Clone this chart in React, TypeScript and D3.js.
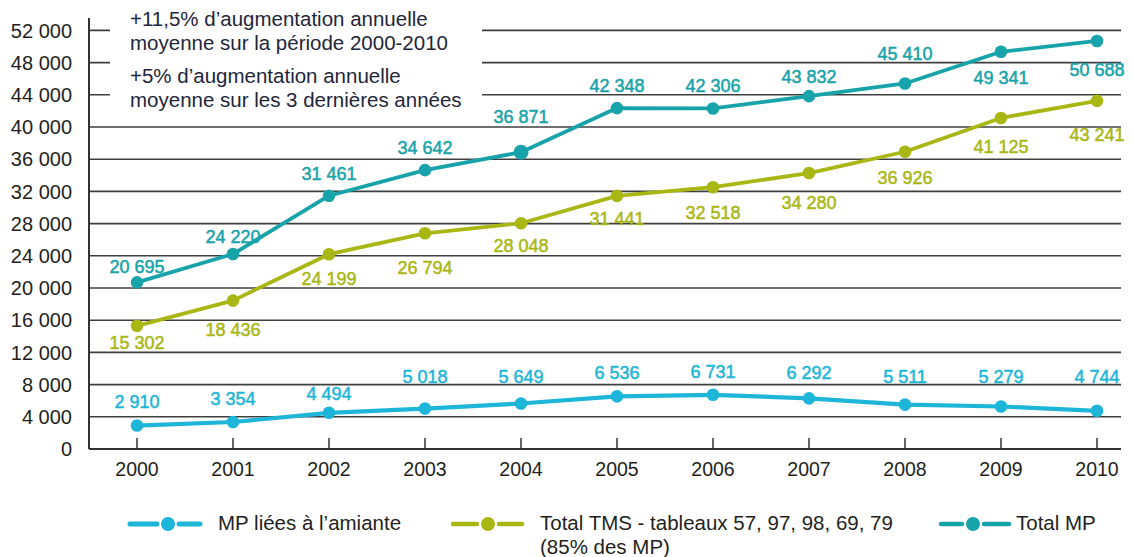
import React from "react";
import * as d3 from "d3";

const years = [2000, 2001, 2002, 2003, 2004, 2005, 2006, 2007, 2008, 2009, 2010];
const totalMP = [20695, 24220, 31461, 34642, 36871, 42348, 42306, 43832, 45410, 49341, 50688];
const totalTMS = [15302, 18436, 24199, 26794, 28048, 31441, 32518, 34280, 36926, 41125, 43241];
const amiante = [2910, 3354, 4494, 5018, 5649, 6536, 6731, 6292, 5511, 5279, 4744];
const yTicks = [0, 4000, 8000, 12000, 16000, 20000, 24000, 28000, 32000, 36000, 40000, 44000, 48000, 52000];

// label vertical offsets (px) relative to each point
const totalMPDy = [-16, -18, -22, -23, -36, -23, -23, -20, -30, 26, 29];
const tmsDy = [17, 29, 24, 34, 22, 23, 25, 29, 26, 29, 34];
const amianteDy = [-24, -23, -19, -32, -27, -24, -23, -26, -28, -30, -34];

const annotation = [
  "+11,5% d\u2019augmentation annuelle",
  "moyenne sur la p\u00e9riode 2000-2010",
  "+5% d\u2019augmentation annuelle",
  "moyenne sur les 3 derni\u00e8res ann\u00e9es",
];

const C_TOTAL = "#17a3a9";
const C_TMS = "#a9b715";
const C_AMI = "#1db6d8";
const FONT = "'Liberation Sans', Arial, Helvetica, sans-serif";

const fmt = (v: number) => {
  const s = String(v);
  return s.length > 3 ? s.slice(0, s.length - 3) + " " + s.slice(s.length - 3) : s;
};

export default function App() {
  const W = 1134, H = 557;
  const left = 89, right = 1121, bottom = 449;
  const x = d3.scaleLinear().domain([2000, 2010]).range([137, 1097]);
  const y = d3.scaleLinear().domain([0, 52000]).range([bottom, 30.4]);
  const line = d3.line<number>().x((_, i) => x(years[i])).y((d) => y(d));

  const series = [
    { vals: amiante, color: C_AMI, dy: amianteDy, w: 4.2 },
    { vals: totalTMS, color: C_TMS, dy: tmsDy, w: 3.8 },
    { vals: totalMP, color: C_TOTAL, dy: totalMPDy, w: 3.8 },
  ];

  const legend = [
    { cx: 168, x1: 130, x2: 200, color: C_AMI, text: ["MP li\u00e9es \u00e0 l\u2019amiante"], tx: 218, w: 5 },
    { cx: 488, x1: 453, x2: 522, color: C_TMS, text: ["Total TMS - tableaux 57, 97, 98, 69, 79", "(85% des MP)"], tx: 540, w: 4.5 },
    { cx: 973, x1: 941, x2: 1009, color: C_TOTAL, text: ["Total MP"], tx: 1016, w: 4.5 },
  ];

  return (
    <svg width={W} height={H} style={{ position: "absolute", left: 0, top: 0, background: "#fff" }} fontFamily={FONT}>
      <rect x={0} y={0} width={W} height={H} fill="#fff" />
      {yTicks.filter((t) => t > 0).map((t) => (
        <line key={t} x1={left} x2={right} y1={y(t)} y2={y(t)} stroke="#3f3f3f" strokeWidth={1.6} />
      ))}
      <rect x={110} y={4} width={372} height={114} fill="#fff" />
      {annotation.map((t, i) => (
        <text key={i} x={130} y={[26, 50, 83, 107][i]} fontSize={20.5} fill="#23263a">
          {t}
        </text>
      ))}
      <line x1={left} x2={left} y1={18} y2={bottom} stroke="#333" strokeWidth={2} />
      <line x1={left} x2={right} y1={bottom} y2={bottom} stroke="#333" strokeWidth={2} />
      {years.map((yr) => (
        <line key={yr} x1={x(yr)} x2={x(yr)} y1={bottom} y2={bottom - 11} stroke="#333" strokeWidth={1.5} />
      ))}
      {yTicks.map((t) => (
        <text key={t} x={72} y={y(t)} dy="0.36em" textAnchor="end" fontSize={20} fill="#231f20">
          {fmt(t)}
        </text>
      ))}
      {years.map((yr) => (
        <text key={yr} x={x(yr)} y={469} dy="0.36em" textAnchor="middle" fontSize={19.5} fill="#231f20">
          {yr}
        </text>
      ))}
      {series.map((s, si) => (
        <g key={si}>
          <path d={line(s.vals) || ""} fill="none" stroke={s.color} strokeWidth={s.w} strokeLinejoin="round" />
          {s.vals.map((v, i) => (
            <circle key={i} cx={x(years[i])} cy={y(v)} r={s.vals === totalMP && i === 4 ? 7.5 : 6.3} fill={s.color} />
          ))}
          {s.vals.map((v, i) => (
            <text
              key={"t" + i}
              x={x(years[i])}
              y={y(v) + s.dy[i]}
              dy="0.36em"
              textAnchor="middle"
              fontSize={18}
              fill={s.color}
              stroke={s.color}
              strokeWidth={0.5}
            >
              {fmt(v)}
            </text>
          ))}
        </g>
      ))}
      {legend.map((l, i) => (
        <g key={i}>
          <line x1={l.x1} x2={l.cx - 11} y1={524} y2={524} stroke={l.color} strokeWidth={l.w} strokeLinecap="round" />
          <line x1={l.cx + 11} x2={l.x2} y1={524} y2={524} stroke={l.color} strokeWidth={l.w} strokeLinecap="round" />
          <circle cx={l.cx} cy={524} r={7} fill={l.color} />
          {l.text.map((t, j) => (
            <text key={j} x={l.tx} y={530 + j * 24} fontSize={20.5} fill="#231f20">
              {t}
            </text>
          ))}
        </g>
      ))}
    </svg>
  );
}
